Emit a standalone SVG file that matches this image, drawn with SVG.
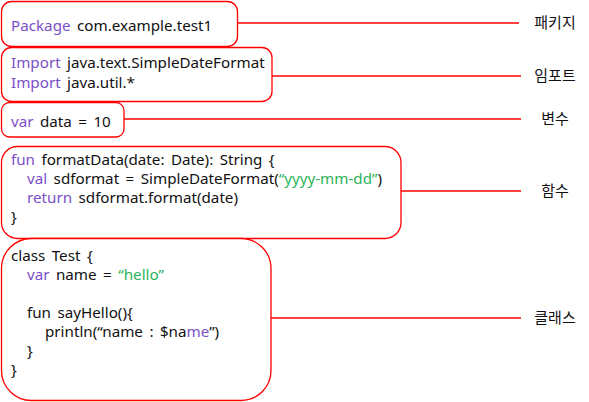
<svg xmlns="http://www.w3.org/2000/svg" width="589" height="402" viewBox="0 0 589 402">
<defs>
<style>
.box{fill:#fff;stroke:#ff0000;stroke-width:1.3}
.ln{stroke:#ff0000;stroke-width:1.3;fill:none}
.code{font-family:"Noto Sans","Noto Sans CJK KR",sans-serif;font-size:15.2px;fill:#111;word-spacing:2.5px}
.kw{fill:#7b4fc8}
.str{fill:#2bb45a}
.lbl{font-family:"Noto Sans CJK KR",sans-serif;font-size:15px;fill:#111;text-anchor:middle}
</style>
</defs>
<rect width="589" height="402" fill="#fff"/>
<g id="connectors">
<line class="ln" x1="237" y1="23" x2="519" y2="23"/>
<line class="ln" x1="272" y1="76" x2="521" y2="76"/>
<line class="ln" x1="124" y1="119" x2="521" y2="119"/>
<line class="ln" x1="401" y1="191" x2="521" y2="191"/>
<line class="ln" x1="271" y1="318" x2="521" y2="318"/>
</g>
<g id="package">
<rect class="box" x="1.5" y="1.5" width="236" height="45" rx="10"/>
<text class="code" x="11" y="31"><tspan class="kw">Package</tspan> com.example.test1</text>
</g>
<g id="import">
<rect class="box" x="1.5" y="47.5" width="270.5" height="54" rx="10"/>
<text class="code" x="11" y="68"><tspan class="kw">Import</tspan> java.text.SimpleDateFormat</text>
<text class="code" x="11" y="88"><tspan class="kw">Import</tspan> java.util.*</text>
</g>
<g id="var">
<rect class="box" x="1.5" y="102.5" width="122.5" height="34.5" rx="8"/>
<text class="code" x="11" y="127"><tspan class="kw">var</tspan> data = 10</text>
</g>
<g id="function">
<rect class="box" x="1.5" y="146.5" width="399.5" height="92" rx="16"/>
<text class="code" x="11" y="165"><tspan class="kw">fun</tspan> formatData(date: Date): String {</text>
<text class="code" x="27" y="184"><tspan class="kw">val</tspan> sdformat = SimpleDateFormat(<tspan class="str">“yyyy-mm-dd”</tspan>)</text>
<text class="code" x="27" y="203"><tspan class="kw">return</tspan> sdformat.format(date)</text>
<text class="code" x="11" y="222">}</text>
</g>
<g id="class">
<rect class="box" x="1.5" y="238.5" width="269.5" height="162" rx="30"/>
<text class="code" x="11" y="261">class Test {</text>
<text class="code" x="27" y="280"><tspan class="kw">var</tspan> name = <tspan class="str">“hello”</tspan></text>
<text class="code" x="27" y="318">fun sayHello(){</text>
<text class="code" x="45" y="337">println(“name : $na<tspan class="kw">me</tspan>”)</text>
<text class="code" x="27" y="356">}</text>
<text class="code" x="11" y="375">}</text>
</g>
<g id="labels">
<text class="lbl" x="555" y="28">패키지</text>
<text class="lbl" x="555" y="81">임포트</text>
<text class="lbl" x="555" y="124">변수</text>
<text class="lbl" x="555" y="196">함수</text>
<text class="lbl" x="555" y="323">클래스</text>
</g>
</svg>
